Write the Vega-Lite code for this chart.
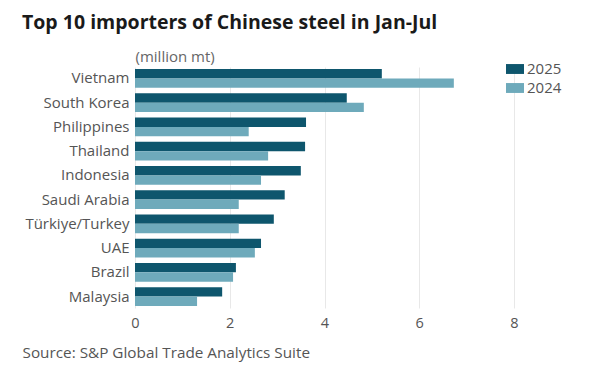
{
  "$schema": "https://vega.github.io/schema/vega-lite/v6.json",
  "autosize": "none",
  "width": 379,
  "height": 241,
  "padding": {"left": 135, "top": 67, "right": 87, "bottom": 68},
  "background": "white",
  "config": {
    "font": "Open Sans",
    "view": {"stroke": null}
  },
  "title": {
    "text": "Top 10 importers of Chinese steel in Jan-Jul",
    "anchor": "start",
    "frame": "group",
    "dx": -113,
    "offset": 16,
    "fontSize": 19.5,
    "fontWeight": "bold",
    "color": "#1a1a1a",
    "font": "Open Sans"
  },
  "data": {
    "values": [
      {"country": "Vietnam", "year": "2025", "value": 5.21},
      {"country": "Vietnam", "year": "2024", "value": 6.73},
      {"country": "South Korea", "year": "2025", "value": 4.47},
      {"country": "South Korea", "year": "2024", "value": 4.83},
      {"country": "Philippines", "year": "2025", "value": 3.61},
      {"country": "Philippines", "year": "2024", "value": 2.40},
      {"country": "Thailand", "year": "2025", "value": 3.59},
      {"country": "Thailand", "year": "2024", "value": 2.81},
      {"country": "Indonesia", "year": "2025", "value": 3.50},
      {"country": "Indonesia", "year": "2024", "value": 2.66},
      {"country": "Saudi Arabia", "year": "2025", "value": 3.16},
      {"country": "Saudi Arabia", "year": "2024", "value": 2.19},
      {"country": "Türkiye/Turkey", "year": "2025", "value": 2.93},
      {"country": "Türkiye/Turkey", "year": "2024", "value": 2.19},
      {"country": "UAE", "year": "2025", "value": 2.66},
      {"country": "UAE", "year": "2024", "value": 2.53},
      {"country": "Brazil", "year": "2025", "value": 2.13},
      {"country": "Brazil", "year": "2024", "value": 2.07},
      {"country": "Malaysia", "year": "2025", "value": 1.84},
      {"country": "Malaysia", "year": "2024", "value": 1.31}
    ]
  },
  "mark": {"type": "bar"},
  "encoding": {
    "y": {
      "field": "country",
      "type": "nominal",
      "sort": null,
      "scale": {"paddingInner": 0.22, "paddingOuter": 0.08},
      "axis": {
        "title": "(million mt)",
        "titleAngle": 0,
        "titleX": 0,
        "titleY": -3,
        "titleAlign": "left",
        "titleBaseline": "bottom",
        "titleFontSize": 15,
        "titleFontWeight": "normal",
        "titleColor": "#666666",
        "labelFontSize": 15,
        "labelColor": "#555555",
        "labelPadding": 6,
        "ticks": false,
        "domain": false,
        "grid": false
      }
    },
    "yOffset": {
      "field": "year",
      "type": "nominal",
      "sort": ["2025", "2024"]
    },
    "x": {
      "field": "value",
      "type": "quantitative",
      "scale": {"domain": [0, 8]},
      "axis": {
        "values": [0, 2, 4, 6, 8],
        "title": "Source: S&P Global Trade Analytics Suite",
        "titleX": -113,
        "titleY": 52,
        "titleAlign": "left",
        "titleAnchor": null,
        "titleBaseline": "bottom",
        "titleFontSize": 15.3,
        "titleFontWeight": "normal",
        "titleColor": "#555555",
        "labelFontSize": 14.5,
        "labelColor": "#555555",
        "labelPadding": 8,
        "labelFlush": false,
        "ticks": false,
        "domain": false,
        "grid": true,
        "gridColor": "#e8e8e8",
        "gridWidth": 1
      }
    },
    "color": {
      "field": "year",
      "type": "nominal",
      "scale": {"domain": ["2025", "2024"], "range": ["#0e566d", "#6eaabb"]},
      "legend": {
        "title": null,
        "orient": "none",
        "legendX": 371,
        "legendY": -7,
        "symbolType": "M-1,-0.55H1V0.55H-1Z",
        "symbolSize": 324,
        "symbolStrokeWidth": 0,
        "labelFontSize": 15,
        "labelColor": "#555555",
        "rowPadding": 2,
        "labelOffset": 3
      }
    }
  }
}
